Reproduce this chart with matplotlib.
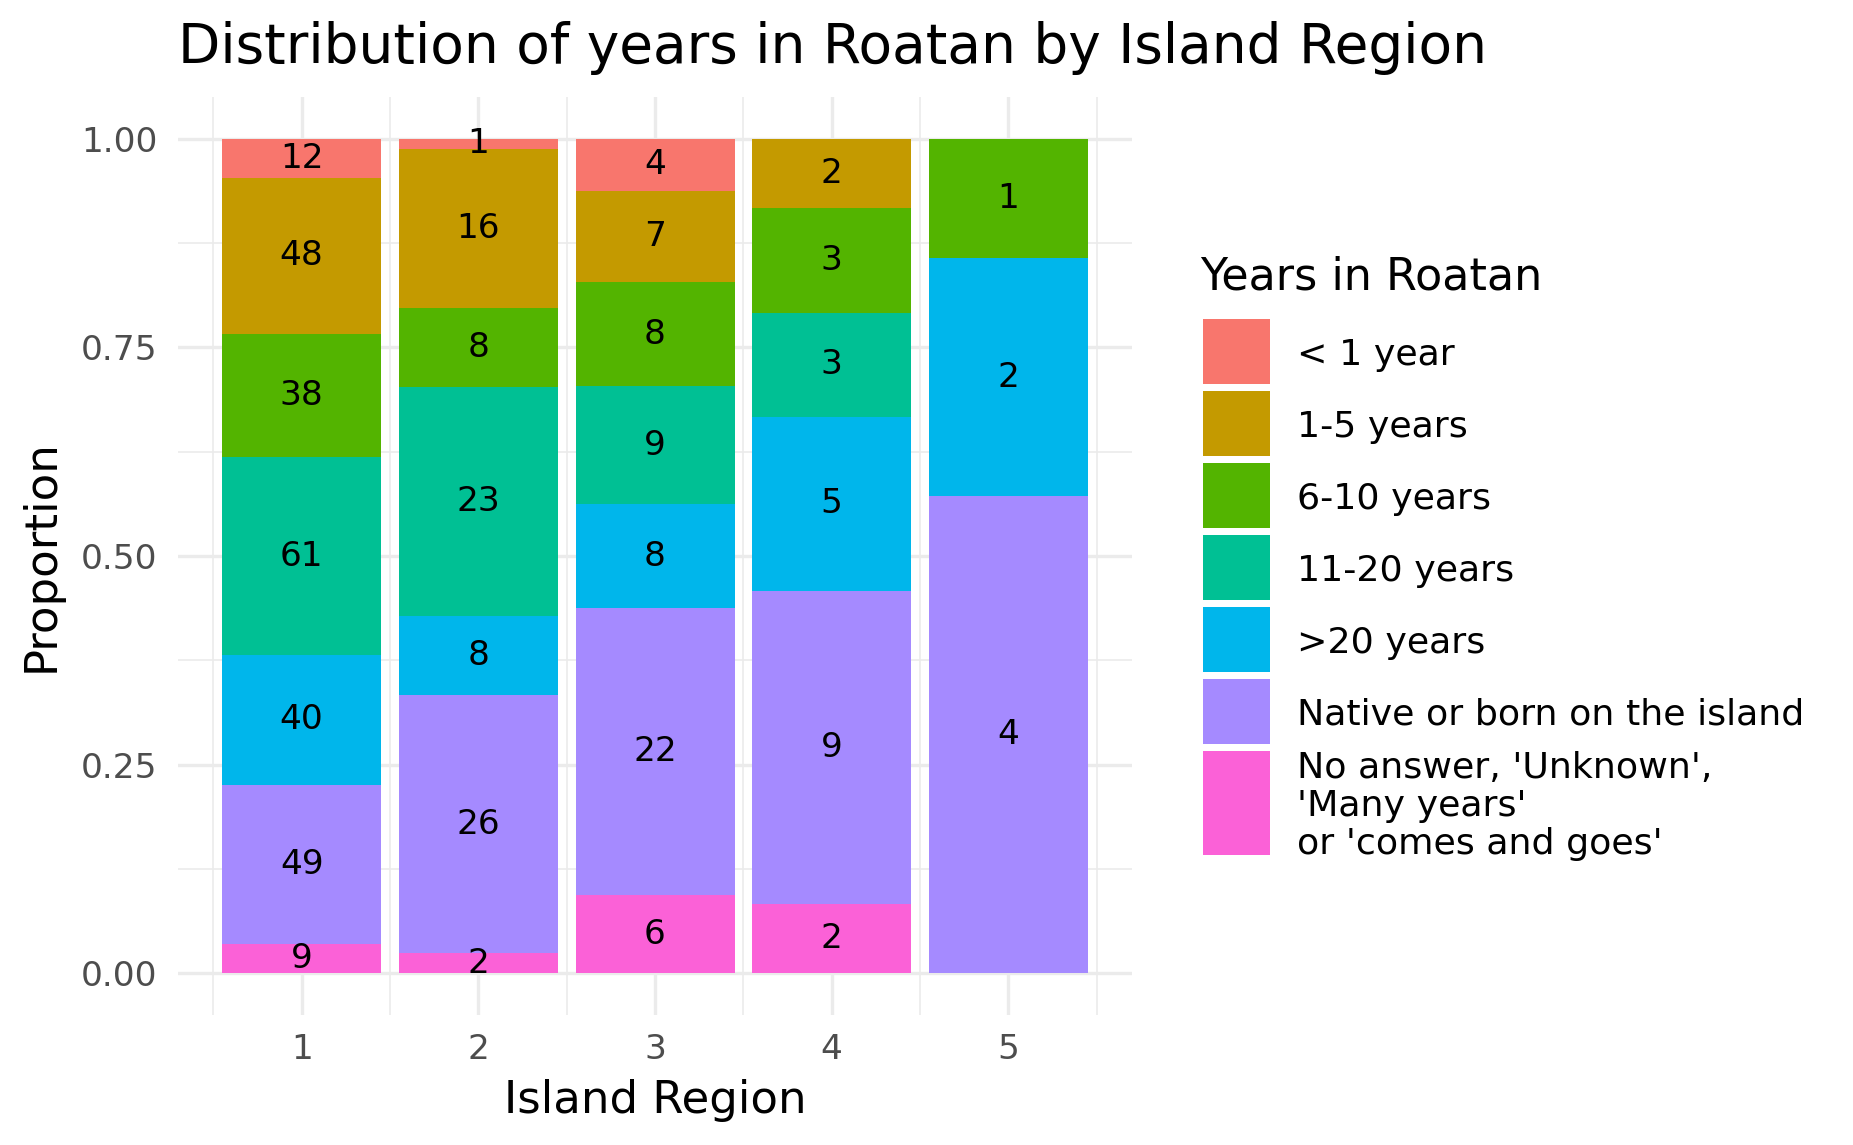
import numpy as np
import matplotlib
matplotlib.use("Agg")
import matplotlib.pyplot as plt
from matplotlib.patches import Rectangle

# ──────────────────────────────────────────────
# data: counts per island region (1..5)
# ──────────────────────────────────────────────
regions = [1, 2, 3, 4, 5]
categories = ["< 1 year", "1-5 years", "6-10 years", "11-20 years", ">20 years",
              "Native or born on the island",
              "No answer, 'Unknown',\n'Many years'\nor 'comes and goes'"]
lt_1      = [12, 1, 4, 0, 0]
y_1_5     = [48, 16, 7, 2, 0]
y_6_10    = [38, 8, 8, 3, 1]
y_11_20   = [61, 23, 9, 3, 0]
gt_20     = [40, 8, 8, 5, 2]
native    = [49, 26, 22, 9, 4]
no_answer = [9, 2, 6, 2, 0]

colors = ["#F8766D", "#C49A00", "#53B400", "#00C094", "#00B6EB", "#A58AFF", "#FB61D7"]

series = [lt_1, y_1_5, y_6_10, y_11_20, gt_20, native, no_answer]
counts = np.array(series, dtype=float)
props = counts / counts.sum(axis=0)

W, H = 1853, 1145
DPI = 200
fig = plt.figure(figsize=(W / DPI, H / DPI), dpi=DPI)

def fx(px):
    return px / W

def fy(py):
    return 1 - py / H

ax = fig.add_axes([fx(178), fy(1015), fx(1132) - fx(178), fy(97) - fy(1015)])

# grid (theme_minimal look)
grid_c = "#EBEBEB"
for v in [0.5, 1.5, 2.5, 3.5, 4.5, 5.5]:
    ax.axvline(v, color=grid_c, lw=0.6, zorder=0)
for v in [0.125, 0.375, 0.625, 0.875]:
    ax.axhline(v, color=grid_c, lw=0.6, zorder=0)
for v in regions:
    ax.axvline(v, color=grid_c, lw=1.2, zorder=0)
for v in [0, 0.25, 0.5, 0.75, 1.0]:
    ax.axhline(v, color=grid_c, lw=1.2, zorder=0)

# stacked bars: last category at the bottom
bottom = np.zeros(len(regions))
for i in range(len(categories) - 1, -1, -1):
    ax.bar(regions, props[i], width=0.9, bottom=bottom, color=colors[i],
           linewidth=0, zorder=2)
    for j, r in enumerate(regions):
        if counts[i, j] > 0:
            ax.text(r, bottom[j] + props[i, j] / 2, f"{int(counts[i, j])}",
                    ha="center", va="center", fontsize=12.4, color="black", zorder=3)
    bottom += props[i]

ax.set_xlim(0.3, 5.7)
ax.set_ylim(-0.05, 1.05)
ax.set_xticks(regions)
ax.set_xticklabels([str(r) for r in regions])
ax.set_yticks([0, 0.25, 0.5, 0.75, 1.0])
ax.set_yticklabels(["0.00", "0.25", "0.50", "0.75", "1.00"])
ax.tick_params(axis="both", length=0, labelsize=12.4, labelcolor="#4D4D4D")
ax.tick_params(axis="x", pad=6.5)
ax.tick_params(axis="y", pad=7.5)
for s in ax.spines.values():
    s.set_visible(False)

# titles
fig.text(fx(178), fy(63), "Distribution of years in Roatan by Island Region",
         fontsize=19.8, ha="left", va="baseline")
fig.text(fx(655), fy(1113), "Island Region", fontsize=16.2, ha="center", va="baseline")
fig.text(fx(41), fy(556), "Proportion", fontsize=16.2, rotation=90,
         ha="center", va="center")

# legend (drawn by hand to allow the tall last key)
fig.text(fx(1200), fy(289), "Years in Roatan", fontsize=16, ha="left", va="baseline")
key_top = 319
for i, lab in enumerate(categories):
    h = 65 if i < len(categories) - 1 else 104
    fig.patches.append(Rectangle((fx(1203), fy(key_top + h)), fx(1270) - fx(1203),
                                 fy(key_top) - fy(key_top + h),
                                 transform=fig.transFigure, color=colors[i], lw=0))
    fig.text(fx(1297), fy(key_top + h / 2 + 3), lab, fontsize=13.1, ha="left",
             va="center", linespacing=1.15)
    key_top += 72

fig.savefig("out.png", dpi=DPI)
